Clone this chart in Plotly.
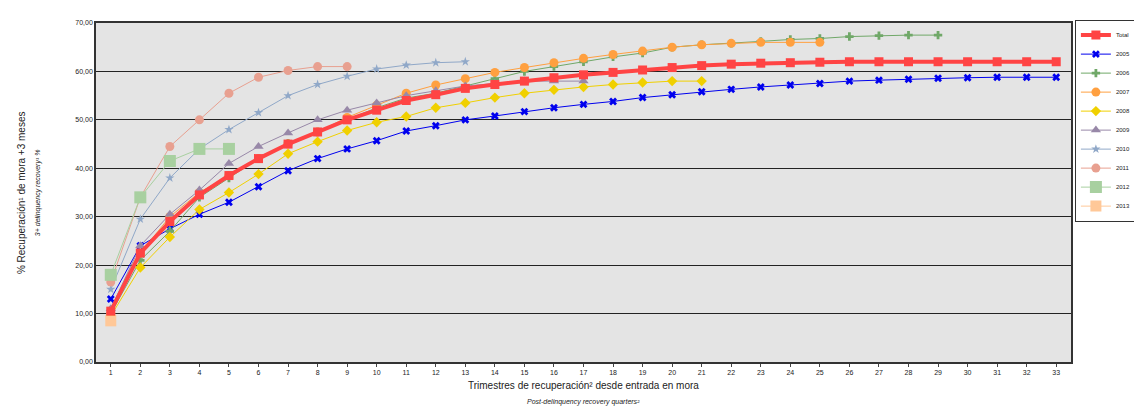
import plotly.graph_objects as go

quarters = list(range(1, 34))

total = [10.5, 22.5, 29, 34.5, 38.5, 42, 45, 47.5, 50, 52, 54, 55.2, 56.5, 57.3, 58, 58.7, 59.3,
         59.8, 60.3, 60.8, 61.2, 61.5, 61.7, 61.8, 61.9, 62, 62, 62, 62, 62, 62, 62, 62]
y2005 = [13, 24, 27.5, 30.5, 33, 36.2, 39.5, 42, 44, 45.7, 47.7, 48.8, 50, 50.8, 51.7, 52.5, 53.2,
         53.8, 54.6, 55.2, 55.8, 56.3, 56.8, 57.2, 57.5, 58, 58.2, 58.4, 58.6, 58.7, 58.8, 58.8, 58.8]
y2006 = [10, 21, 27, 34, 38, 42, 45.2, 47.5, 50, 52.5, 54.5, 55.5, 57, 58.5, 60, 61, 62, 63, 63.8,
         65, 65.5, 65.8, 66.2, 66.6, 66.8, 67.2, 67.4, 67.5, 67.5]
y2007 = [10, 22.5, 30, 35, 38.5, 42, 45, 47.5, 50.5, 53, 55.5, 57.2, 58.5, 59.8, 60.8, 61.8, 62.7,
         63.5, 64.2, 65, 65.5, 65.8, 66, 66, 66]
y2008 = [9.5, 19.5, 25.8, 31.5, 35, 38.8, 43, 45.5, 47.8, 49.5, 50.7, 52.5, 53.5, 54.6, 55.5, 56.2,
         56.8, 57.3, 57.7, 58, 58]
y2009 = [11, 24, 30.5, 35.5, 41, 44.5, 47.3, 50, 52, 53.5, 55, 56, 57, 57.5, 58, 58, 58]
y2010 = [15, 29.5, 38, 44, 48, 51.5, 55, 57.3, 59, 60.5, 61.3, 61.8, 62]
y2011 = [16.5, 34, 44.5, 50, 55.5, 58.8, 60.2, 61, 61]
y2012 = [18, 34, 41.5, 44, 44]
y2013 = [8.5]

series = [
    ("Total", total, "#ff4444", "square", 4, 9),
    ("2005", y2005, "#0000ee", "x", 1, 7),
    ("2006", y2006, "#70a868", "cross", 1, 7),
    ("2007", y2007, "#ffa040", "circle", 1, 9),
    ("2008", y2008, "#f0d000", "diamond", 1, 8),
    ("2009", y2009, "#9888a8", "triangle-up", 1, 9),
    ("2010", y2010, "#90a8c8", "star", 1, 7),
    ("2011", y2011, "#e8a090", "circle", 1, 9),
    ("2012", y2012, "#a8d0a0", "square", 1, 12),
    ("2013", y2013, "#ffc898", "square", 1, 11),
]
names = [s[0] for s in series]

fig = go.Figure()
# older years first, Total drawn on top
for name, vals, color, sym, w, size in series[1:] + series[:1]:
    fig.add_trace(go.Scatter(
        x=quarters[:len(vals)], y=vals, name=name, mode="lines+markers",
        line=dict(color=color, width=w),
        marker=dict(symbol=sym, size=size, color=color),
        legendrank=names.index(name),
    ))

fig.update_layout(
    width=1142, height=414,
    margin=dict(l=88, r=79, t=15, b=60),
    paper_bgcolor="white", plot_bgcolor="#e4e4e4",
    font=dict(family="Liberation Sans, Arial", size=7, color="#222"),
    separators=",.",
    legend=dict(x=1.004, y=1.01, xanchor="left", yanchor="top",
                bordercolor="#333", borderwidth=1, bgcolor="white",
                font=dict(size=6), itemwidth=30, tracegroupgap=0),
)

fig.update_xaxes(range=[0.5, 33.5], tickmode="array", tickvals=quarters, ticks="outside",
                 ticklen=3, showgrid=False, showline=True, linecolor="#333", linewidth=1.5,
                 mirror=True, zeroline=False)
fig.update_yaxes(range=[0, 70], dtick=10, tickformat=".2f", showgrid=True, gridcolor="#222",
                 gridwidth=1, showline=True, linecolor="#333", linewidth=1.5, mirror=True,
                 zeroline=False)

fig.add_annotation(text="Trimestres de recuperación² desde entrada en mora", xref="paper", yref="paper",
                   x=0.5, y=-0.092, showarrow=False, font=dict(size=10, color="#222"))
fig.add_annotation(text="<i>Post-delinquency recovery quarters²</i>", xref="paper", yref="paper",
                   x=0.5, y=-0.135, showarrow=False, font=dict(size=7, color="#222"))
fig.add_annotation(text="% Recuperación¹ de mora +3 meses", xref="paper", yref="paper",
                   x=-0.084, y=0.5, textangle=-90, showarrow=False, font=dict(size=10, color="#222"))
fig.add_annotation(text="<i>3+ delinquency recovery¹ %</i>", xref="paper", yref="paper",
                   x=-0.066, y=0.5, textangle=-90, showarrow=False, font=dict(size=7, color="#222"))

fig.write_html("out.html")
